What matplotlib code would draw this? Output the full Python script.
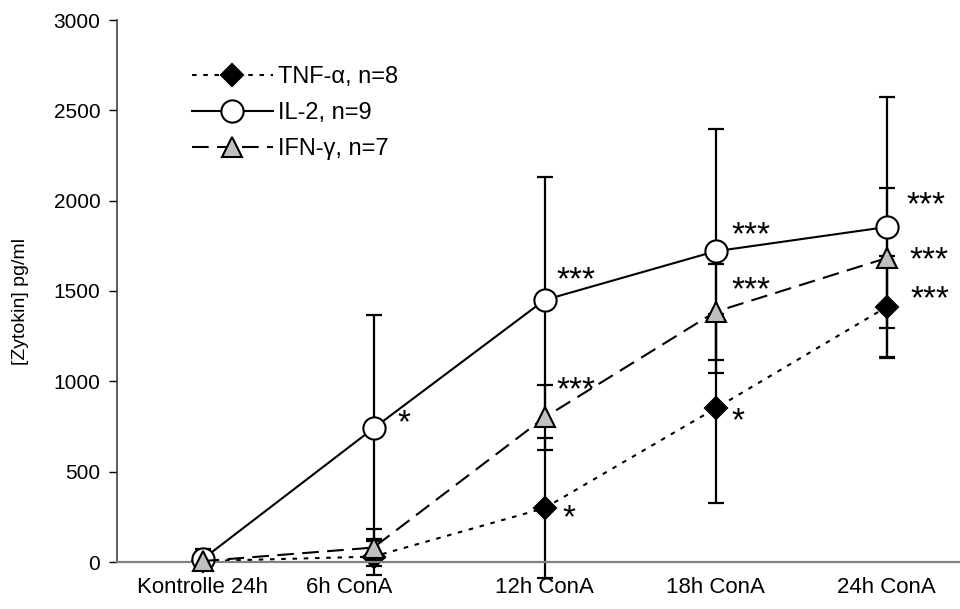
import numpy as np
import matplotlib
matplotlib.use('Agg')
import matplotlib.pyplot as plt
from matplotlib.transforms import ScaledTranslation

# Cytokine release after ConA stimulation
labels = ['Kontrolle 24h', '6h ConA', '12h ConA', '18h ConA', '24h ConA']

tnf = [5, 30, 298, 850, 1411]
tnf_err = [5, 100, 388, 525, 282]
tnf_sig = ['', '', '*', '*', '***']

il2 = [15, 740, 1450, 1720, 1854]
il2_err = [55, 625, 681, 675, 720]
il2_sig = ['', '*', '***', '***', '***']

ifn = [5, 80, 800, 1385, 1682]
ifn_err = [10, 100, 180, 265, 388]
ifn_sig = ['', '', '***', '***', '***']

plt.rcParams['font.family'] = ['Liberation Sans', 'DejaVu Sans']

fig = plt.figure(figsize=(9.6, 6.09), dpi=100)
ax = fig.add_axes([117 / 960, 47 / 609, 855 / 960, 542 / 609])

x = np.arange(len(labels))

series = [
  (tnf, tnf_err, tnf_sig, 'TNF-α, n=8', dict(ls=(0, (2.2, 3.2)), marker='D', ms=11.5, mfc='black'), 2),
  (il2, il2_err, il2_sig, 'IL-2, n=9', dict(ls='-', marker='o', ms=16, mfc='white'), 3),
  (ifn, ifn_err, ifn_sig, 'IFN-γ, n=7', dict(ls=(0, (8, 4)), marker='^', ms=15, mfc='#c0c0c0'), 4),
]

# star offsets in pixels (dx, dy) for each point
offsets = {
  'TNF-α, n=8': [(0, 0), (0, 0), (24, -8), (22, -10), (43, 10)],
  'IL-2, n=9': [(0, 0), (30, 8), (31, 22), (35, 18), (39, 24)],
  'IFN-γ, n=7': [(0, 0), (0, 0), (31, 30), (35, 24), (42, 0)],
}

for vals, err, sig, name, style, z in series:
  eb = ax.errorbar(x, vals, yerr=err, fmt='none', ecolor='black', elinewidth=1.6,
                   capsize=6, capthick=1.6, zorder=1)
  for art in eb.lines[1] + tuple(eb.lines[2]):
    art.set_clip_on(False)
  ax.plot(x, vals, color='black', lw=1.5, mec='black', mew=1.5, label=name,
          zorder=z, clip_on=False, **style)
  for xi, yi, s, (dx, dy) in zip(x, vals, sig, offsets[name]):
    if s:
      ax.annotate(s, (xi, yi), xytext=(dx, dy - 3), textcoords='offset pixels',
                  ha='center', va='center', fontsize=24)

ax.set_xlim(-0.5, 4.5)
ax.set_ylim(0, 3000)
ax.set_yticks(np.arange(0, 3001, 500))
ax.set_xticks(x)
ax.set_xticklabels(labels, fontsize=16)
ax.tick_params(axis='y', labelsize=15, length=6, width=1, direction='out', pad=6)
ax.tick_params(axis='x', length=0, pad=11)
ax.set_ylabel('[Zytokin] pg/ml', fontsize=14)
ax.yaxis.set_label_coords(-0.103, 0.48)

# the "6h ConA" label sits a little left of its point
lbl = ax.get_xticklabels()[1]
lbl.set_transform(lbl.get_transform() + ScaledTranslation(-0.24, 0, fig.dpi_scale_trans))

ax.spines['top'].set_visible(False)
ax.spines['right'].set_visible(False)
ax.spines['bottom'].set_color('#808080')
ax.spines['bottom'].set_linewidth(1.6)
ax.spines['left'].set_color('#404040')
ax.spines['left'].set_linewidth(1.2)

ax.legend(loc='upper left', bbox_to_anchor=(0.088, 0.915), frameon=False, fontsize=17,
          handlelength=3.4, handletextpad=0.25, labelspacing=0.6, borderaxespad=0,
          borderpad=0)

fig.savefig('out.png', dpi=100)
